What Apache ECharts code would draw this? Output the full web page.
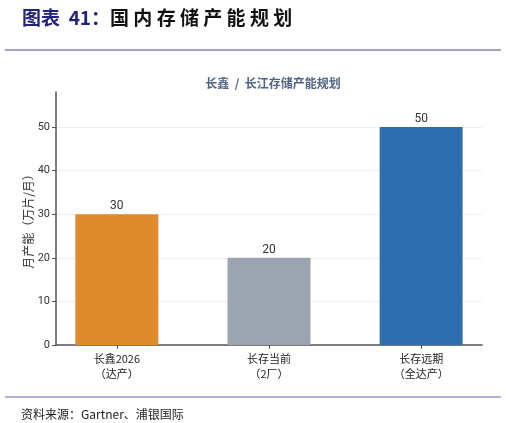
<!DOCTYPE html>
<html><head><meta charset="utf-8">
<script src="https://cdn.jsdelivr.net/npm/echarts@6/dist/echarts.min.js"></script>
<style>html,body{margin:0;padding:0;background:#fff}#c{width:506px;height:423px}</style>
</head><body><div id="c"></div>
<script>
const categories = ['长鑫2026\n（达产）', '长存当前\n（2厂）', '长存远期\n（全达产）'];
const capacity = [30, 20, 50];
const barColors = ['#E08A2E', '#9BA5B0', '#2E6EAF'];
const yTicks = [0, 10, 20, 30, 40, 50];

const chart = echarts.init(document.getElementById('c'), null, {renderer: 'canvas'});
const FONT = '"Noto Sans CJK SC", "Noto Sans", sans-serif';
chart.setOption({
  animation: false,
  textStyle: {fontFamily: FONT},
  title: [
    {text: '{a|图表  41：}{b|国 内 存 储 产 能 规 划}', left: 17, top: 3,
     textStyle: {rich: {
       a: {fontSize: 19, fontWeight: 'bold', color: '#23237A', fontFamily: FONT},
       b: {fontSize: 19, fontWeight: 'bold', color: '#111', fontFamily: FONT}}}},
    {text: '长鑫  /  长江存储产能规划', left: 268, textAlign: 'center', top: 72,
     textStyle: {fontSize: 12, fontWeight: 'bold', color: '#4F6485', fontFamily: FONT}},
    {text: '资料来源：Gartner、浦银国际', left: 16, top: 403,
     textStyle: {fontSize: 12, fontWeight: 'normal', color: '#222', fontFamily: FONT}}
  ],
  graphic: [
    {type: 'line', shape: {x1: 5, y1: 50, x2: 501, y2: 50}, style: {stroke: '#8585B5', lineWidth: 1.5}},
    {type: 'line', shape: {x1: 5, y1: 397, x2: 501, y2: 397}, style: {stroke: '#6565AE', lineWidth: 1}}
  ],
  grid: {left: 56, right: 24, top: 92, bottom: 78},
  xAxis: {
    type: 'value', min: -0.4, max: 2.4,
    splitLine: {show: false},
    axisLine: {show: true, onZero: false, lineStyle: {color: '#555', width: 1.5}},
    axisTick: {show: true, customValues: [0, 1, 2], length: 4, lineStyle: {color: '#555'}},
    axisLabel: {customValues: [0, 1, 2], formatter: v => categories[Math.round(v)],
      fontSize: 11, color: '#222', lineHeight: 15, margin: 6, fontFamily: FONT}
  },
  yAxis: {
    type: 'value', min: 0, max: 58,
    name: '月产能（万片/月）', nameLocation: 'middle', nameGap: 22, nameRotate: 90, nameMoveOverlap: false,
    nameTextStyle: {fontSize: 12, color: '#333', fontFamily: FONT},
    axisLine: {show: true, onZero: false, lineStyle: {color: '#555', width: 1.5}},
    axisTick: {show: true, customValues: yTicks, length: 4, lineStyle: {color: '#555'}},
    axisLabel: {customValues: yTicks, fontSize: 11, color: '#333', margin: 6, fontFamily: 'Roboto, sans-serif'},
    splitLine: {show: true, lineStyle: {color: '#EEEEEE', width: 1}}
  },
  series: [{
    type: 'bar', barWidth: 83,
    data: capacity.map((v, i) => ({value: [i, v], itemStyle: {color: barColors[i]}})),
    label: {show: true, position: 'top', distance: 2, fontSize: 12, color: '#333', fontFamily: 'Roboto, sans-serif',
      formatter: p => p.value[1]}
  }]
});
</script></body></html>
